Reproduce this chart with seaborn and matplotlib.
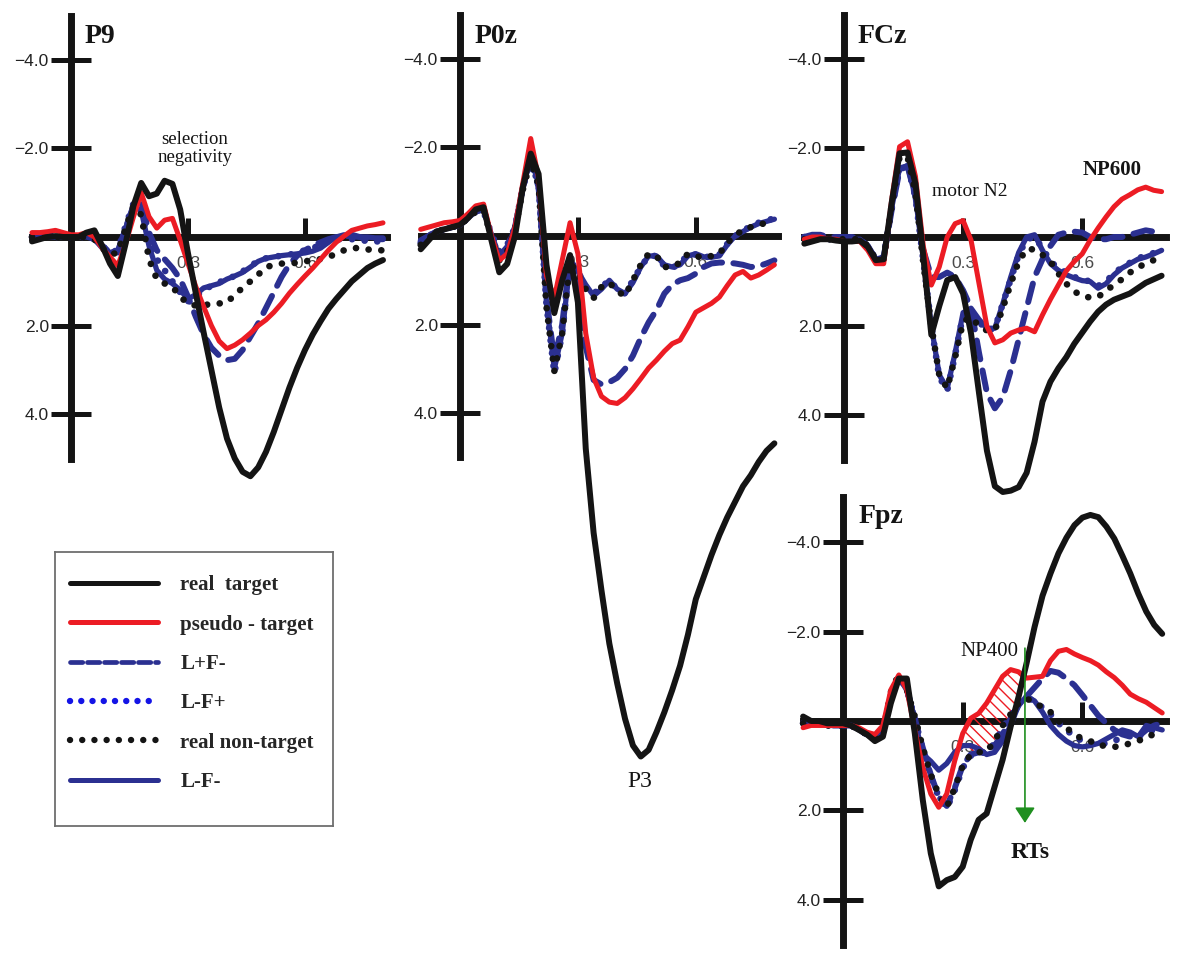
import matplotlib
matplotlib.use("Agg")
import matplotlib.pyplot as plt
from matplotlib.lines import Line2D
import numpy as np
import seaborn as sns

sns.set_theme(style="white")
plt.rcParams["font.family"] = ["Liberation Serif", "DejaVu Serif"]
plt.rcParams["hatch.linewidth"] = 1.0

# sample times (s), shared by every trace
TIME = [-0.10, -0.08, -0.06, -0.04, -0.02, 0.00, 0.02, 0.04, 0.06, 0.08,
        0.10, 0.12, 0.14, 0.16, 0.18, 0.20, 0.22, 0.24, 0.26, 0.28,
        0.30, 0.32, 0.34, 0.36, 0.38, 0.40, 0.42, 0.44, 0.46, 0.48,
        0.50, 0.52, 0.54, 0.56, 0.58, 0.60, 0.62, 0.64, 0.66, 0.68,
        0.70, 0.72, 0.74, 0.76, 0.78, 0.80]

# ---- P9 (uV, negative up) ----
P9_TARGET = [0.10, 0.05, 0.00, -0.02, 0.00, 0.00, 0.00, -0.10, -0.15, 0.20,
             0.60, 0.88, 0.15, -0.70, -1.22, -0.92, -0.98, -1.27, -1.20, -0.62,
             0.37, 1.27, 2.15, 3.00, 3.85, 4.55, 5.00, 5.30, 5.40, 5.20,
             4.85, 4.40, 3.90, 3.40, 2.95, 2.55, 2.20, 1.90, 1.62, 1.40,
             1.20, 1.00, 0.85, 0.70, 0.60, 0.52]
P9_PSEUDO = [-0.10, -0.10, -0.12, -0.15, -0.10, -0.05, -0.05, -0.10, 0.00, 0.25,
             0.45, 0.65, 0.15, -0.45, -1.00, -0.46, -0.20, -0.38, -0.42, 0.07,
             0.60, 1.12, 1.57, 2.00, 2.35, 2.52, 2.44, 2.32, 2.17, 2.00,
             1.87, 1.70, 1.50, 1.27, 1.07, 0.88, 0.70, 0.50, 0.30, 0.12,
             -0.02, -0.15, -0.20, -0.25, -0.28, -0.32]
P9_LPFM = [0.00, -0.05, -0.05, -0.05, 0.00, 0.00, 0.00, 0.00, 0.05, 0.20,
           0.35, 0.35, -0.20, -0.70, -0.80, -0.10, 0.30, 0.50, 0.70, 0.95,
           1.35, 1.80, 2.20, 2.50, 2.68, 2.78, 2.75, 2.55, 2.25, 1.95,
           1.60, 1.25, 0.90, 0.62, 0.42, 0.30, 0.20, 0.12, 0.05, 0.00,
           0.00, -0.05, 0.00, 0.05, 0.05, 0.05]
P9_LMFP = [0.00, 0.00, -0.05, 0.00, 0.00, 0.00, 0.00, 0.00, 0.05, 0.20,
           0.35, 0.30, -0.25, -0.75, -0.55, 0.10, 0.50, 0.75, 1.00, 1.25,
           1.45, 1.35, 1.20, 1.10, 1.02, 0.95, 0.88, 0.78, 0.65, 0.55,
           0.48, 0.45, 0.42, 0.40, 0.35, 0.30, 0.25, 0.18, 0.10, 0.05,
           0.05, 0.05, 0.05, 0.10, 0.10, 0.10]
P9_NONTARGET = [0.00, 0.00, 0.00, 0.00, 0.00, 0.00, 0.00, 0.00, 0.05, 0.25,
                0.40, 0.35, -0.20, -0.70, -0.50, 0.50, 0.95, 1.05, 1.12, 1.35,
                1.50, 1.55, 1.55, 1.50, 1.50, 1.48, 1.30, 1.15, 1.00, 0.85,
                0.68, 0.63, 0.60, 0.60, 0.58, 0.55, 0.52, 0.50, 0.45, 0.38,
                0.30, 0.25, 0.25, 0.28, 0.30, 0.30]
P9_LMFM = [0.00, 0.00, 0.00, 0.00, 0.00, 0.00, 0.00, 0.00, 0.05, 0.25,
           0.35, 0.30, -0.20, -0.70, -0.60, 0.20, 0.75, 0.95, 1.05, 1.20,
           1.40, 1.30, 1.15, 1.10, 1.05, 0.95, 0.88, 0.80, 0.68, 0.55,
           0.48, 0.45, 0.42, 0.40, 0.38, 0.36, 0.32, 0.25, 0.12, 0.00,
           -0.05, 0.00, 0.00, 0.00, 0.02, 0.02]

# ---- POz ----
POZ_TARGET = [0.30, 0.10, -0.10, -0.15, -0.20, -0.25, -0.40, -0.60, -0.65, 0.10,
              0.82, 0.63, 0.00, -1.10, -1.86, -1.40, 0.65, 1.74, 1.00, 0.43,
              1.50, 4.80, 6.70, 8.00, 9.20, 10.10, 10.90, 11.50, 11.75, 11.60,
              11.20, 10.75, 10.25, 9.70, 9.00, 8.20, 7.70, 7.20, 6.75, 6.35,
              6.00, 5.65, 5.40, 5.10, 4.85, 4.68]
POZ_PSEUDO = [-0.15, -0.20, -0.25, -0.30, -0.32, -0.35, -0.50, -0.68, -0.72, 0.00,
              0.55, 0.40, -0.20, -1.20, -2.20, -1.30, 0.90, 1.40, 0.55, -0.30,
              0.40, 2.20, 3.20, 3.62, 3.75, 3.78, 3.65, 3.45, 3.22, 2.98,
              2.80, 2.60, 2.43, 2.35, 2.05, 1.72, 1.62, 1.52, 1.38, 1.12,
              0.88, 0.80, 0.95, 0.88, 0.77, 0.65]
POZ_LPFM = [0.10, 0.00, -0.10, -0.15, -0.20, -0.25, -0.40, -0.55, -0.60, 0.00,
            0.45, 0.25, -0.20, -1.10, -1.70, -1.10, 1.40, 2.80, 2.00, 0.50,
            1.20, 2.50, 3.25, 3.35, 3.30, 3.20, 3.00, 2.70, 2.30, 1.95,
            1.67, 1.30, 1.10, 1.00, 0.95, 0.85, 0.70, 0.62, 0.60, 0.60,
            0.62, 0.65, 0.70, 0.68, 0.62, 0.55]
POZ_LMFP = [0.15, 0.00, -0.10, -0.15, -0.20, -0.25, -0.40, -0.55, -0.55, -0.05,
            0.35, 0.20, -0.20, -1.10, -1.70, -1.15, 1.55, 3.10, 2.20, 0.55,
            0.80, 1.15, 1.30, 1.15, 1.00, 1.20, 1.30, 1.00, 0.70, 0.45,
            0.45, 0.68, 0.72, 0.62, 0.42, 0.42, 0.48, 0.46, 0.42, 0.18,
            0.00, -0.12, -0.22, -0.30, -0.35, -0.40]
POZ_NONTARGET = [0.20, 0.05, -0.10, -0.15, -0.20, -0.25, -0.40, -0.55, -0.60, 0.05,
                 0.55, 0.35, -0.15, -1.05, -1.70, -1.15, 1.60, 3.05, 2.20, 0.60,
                 0.85, 1.20, 1.40, 1.15, 1.05, 1.25, 1.35, 1.00, 0.65, 0.40,
                 0.45, 0.70, 0.70, 0.60, 0.40, 0.45, 0.50, 0.45, 0.40, 0.15,
                 0.00, -0.15, -0.20, -0.25, -0.30, -0.35]
POZ_LMFM = [0.10, 0.00, -0.10, -0.15, -0.20, -0.25, -0.40, -0.55, -0.60, 0.00,
            0.50, 0.30, -0.20, -1.10, -1.75, -1.20, 1.50, 3.00, 2.20, 0.60,
            0.80, 1.10, 1.35, 1.20, 1.00, 1.20, 1.30, 1.05, 0.70, 0.45,
            0.45, 0.65, 0.70, 0.65, 0.45, 0.40, 0.47, 0.48, 0.45, 0.20,
            0.00, -0.10, -0.20, -0.28, -0.33, -0.38]

# ---- FCz ----
FCZ_TARGET = [0.15, 0.10, 0.05, 0.05, 0.08, 0.10, 0.10, 0.08, 0.22, 0.52,
              0.50, -0.76, -1.88, -1.90, -1.20, 0.45, 2.20, 1.55, 0.97, 0.90,
              1.27, 2.17, 3.50, 4.80, 5.60, 5.73, 5.70, 5.62, 5.30, 4.60,
              3.70, 3.25, 2.95, 2.70, 2.40, 2.15, 1.90, 1.68, 1.52, 1.41,
              1.34, 1.27, 1.15, 1.03, 0.95, 0.87]
FCZ_PSEUDO = [0.05, 0.00, 0.00, 0.05, 0.05, 0.10, 0.10, 0.10, 0.30, 0.60,
              0.60, -0.83, -2.03, -2.14, -1.36, 0.22, 1.08, 0.67, 0.00, -0.30,
              -0.37, 0.07, 1.04, 2.01, 2.38, 2.31, 2.16, 2.09, 2.05, 2.13,
              1.75, 1.40, 1.08, 0.76, 0.55, 0.38, 0.07, -0.20, -0.45, -0.68,
              -0.85, -0.95, -1.06, -1.12, -1.05, -1.02]
FCZ_LPFM = [0.00, -0.05, -0.05, 0.00, 0.00, 0.00, 0.00, 0.05, 0.20, 0.50,
            0.45, -0.60, -1.50, -1.60, -0.90, 0.30, 0.90, 0.90, 0.80, 0.90,
            1.20, 1.60, 2.60, 3.50, 3.85, 3.60, 3.00, 2.30, 1.60, 0.90,
            0.50, 0.20, -0.05, -0.10, -0.12, -0.10, 0.00, 0.05, 0.05, 0.00,
            0.00, -0.05, -0.10, -0.15, -0.12, -0.10]
FCZ_LMFP = [0.00, 0.00, 0.00, 0.05, 0.05, 0.05, 0.05, 0.05, 0.20, 0.50,
            0.45, -0.65, -1.55, -1.60, -0.90, 0.55, 2.00, 3.15, 3.45, 2.65,
            1.75, 1.65, 1.90, 2.10, 2.05, 1.50, 0.95, 0.40, 0.05, 0.00,
            0.25, 0.55, 0.70, 0.80, 0.90, 0.95, 1.00, 1.10, 1.00, 0.82,
            0.68, 0.58, 0.48, 0.42, 0.36, 0.30]
FCZ_NONTARGET = [0.05, 0.05, 0.05, 0.05, 0.05, 0.05, 0.05, 0.05, 0.20, 0.50,
                 0.50, -0.70, -1.80, -1.80, -1.00, 0.60, 2.00, 3.10, 3.40, 2.70,
                 1.90, 1.80, 2.00, 2.10, 2.10, 1.60, 1.05, 0.55, 0.27, 0.28,
                 0.40, 0.55, 0.82, 1.05, 1.22, 1.33, 1.36, 1.35, 1.20, 1.08,
                 0.95, 0.80, 0.68, 0.60, 0.52, 0.44]
FCZ_LMFM = [0.00, 0.00, 0.00, 0.05, 0.05, 0.05, 0.05, 0.05, 0.20, 0.50,
            0.45, -0.65, -1.55, -1.60, -0.90, 0.50, 2.00, 3.10, 3.40, 2.60,
            1.70, 1.60, 1.85, 2.05, 2.05, 1.50, 0.90, 0.35, 0.00, -0.05,
            0.30, 0.60, 0.75, 0.85, 0.92, 0.98, 1.00, 1.15, 1.05, 0.85,
            0.70, 0.60, 0.50, 0.45, 0.38, 0.30]

# ---- Fpz ----
FPZ_TARGET = [-0.10, 0.00, 0.00, 0.05, 0.05, 0.05, 0.10, 0.20, 0.30, 0.45,
              0.35, -0.40, -0.95, -0.95, 0.28, 1.77, 2.96, 3.70, 3.56, 3.49,
              3.26, 2.66, 2.21, 2.07, 1.47, 0.87, 0.13, -0.54, -1.29, -2.10,
              -2.80, -3.30, -3.75, -4.10, -4.38, -4.55, -4.61, -4.56, -4.35, -4.08,
              -3.70, -3.30, -2.85, -2.45, -2.15, -1.95]
FPZ_PSEUDO = [0.15, 0.10, 0.10, 0.10, 0.10, 0.10, 0.10, 0.15, 0.25, 0.30,
              0.10, -0.70, -1.03, -0.70, 0.20, 1.04, 1.63, 1.93, 1.63, 0.89,
              0.28, -0.06, -0.17, -0.40, -0.70, -1.00, -1.15, -1.10, -0.96, -0.98,
              -1.00, -1.35, -1.56, -1.60, -1.50, -1.42, -1.35, -1.25, -1.10, -0.97,
              -0.80, -0.60, -0.50, -0.42, -0.30, -0.18]
FPZ_LPFM = [0.05, 0.05, 0.05, 0.10, 0.10, 0.10, 0.10, 0.20, 0.30, 0.40,
            0.25, -0.60, -1.00, -0.70, -0.05, 0.60, 1.20, 1.70, 1.90, 1.50,
            1.00, 0.75, 0.70, 0.70, 0.55, 0.30, -0.05, -0.35, -0.55, -0.75,
            -0.95, -1.12, -1.08, -0.95, -0.80, -0.58, -0.35, -0.12, 0.05, 0.20,
            0.30, 0.35, 0.35, 0.20, 0.10, 0.05]
FPZ_LMFP = [0.05, 0.05, 0.05, 0.10, 0.10, 0.10, 0.10, 0.20, 0.30, 0.40,
            0.25, -0.60, -1.00, -0.70, -0.05, 0.65, 1.25, 1.70, 1.95, 1.55,
            1.05, 0.78, 0.72, 0.70, 0.50, 0.15, -0.10, -0.38, -0.52, -0.45,
            -0.30, -0.15, 0.05, 0.20, 0.35, 0.45, 0.50, 0.52, 0.50, 0.45,
            0.35, 0.30, 0.35, 0.25, 0.20, 0.20]
FPZ_NONTARGET = [0.05, 0.05, 0.05, 0.10, 0.10, 0.10, 0.10, 0.20, 0.30, 0.40,
                 0.25, -0.65, -1.05, -0.70, -0.10, 0.60, 1.20, 1.65, 1.93, 1.50,
                 1.00, 0.75, 0.70, 0.68, 0.45, 0.10, -0.15, -0.40, -0.50, -0.42,
                 -0.30, -0.20, 0.00, 0.15, 0.30, 0.40, 0.45, 0.55, 0.55, 0.58,
                 0.55, 0.50, 0.45, 0.35, 0.30, 0.25]
FPZ_LMFM = [0.05, 0.05, 0.05, 0.10, 0.10, 0.10, 0.10, 0.20, 0.30, 0.35,
            0.20, -0.60, -1.00, -0.80, 0.00, 0.74, 0.90, 1.10, 0.95, 0.70,
            0.55, 0.55, 0.62, 0.75, 0.70, 0.45, 0.10, -0.35, -0.55, -0.45,
            -0.20, 0.10, 0.30, 0.45, 0.55, 0.58, 0.55, 0.50, 0.40, 0.30,
            0.20, 0.25, 0.35, 0.10, 0.15, 0.20]

NP400_WINDOW = (0.32, 0.44)   # hatched pseudo-target effect at Fpz
RT_TIME = 0.456               # mean response time marker
RT_SPAN = (-1.63, 2.28)

XTICKS, XTICK_LABELS = [0.3, 0.6], ["0.3", "0.6"]
YTICKS, YTICK_LABELS = [-4, -2, 2, 4], ["\u22124.0", "\u22122.0", "2.0", "4.0"]

BLACK = "#141414"
RED = "#EC1C24"
NAVY = "#2B3091"
BRIGHT_BLUE = "#1414E6"

# draw order (bottom -> top)
CONDITIONS = ["L-F-", "L+F-", "L-F+", "real non-target", "pseudo - target", "real  target"]
STYLE = {
    "real  target":    dict(color=BLACK, lw=4.3, ls="-"),
    "pseudo - target": dict(color=RED, lw=3.6, ls="-"),
    "L+F-":            dict(color=NAVY, lw=4.3, ls=(0, (3.2, 1.9))),
    "L-F+":            dict(color=NAVY, lw=4.8, ls=(0, (0.01, 1.9))),
    "real non-target": dict(color=BLACK, lw=4.8, ls=(0, (0.01, 1.9))),
    "L-F-":            dict(color=NAVY, lw=3.8, ls="-"),
}
LEGEND_ORDER = ["real  target", "pseudo - target", "L+F-", "L-F+", "real non-target", "L-F-"]

W_PX, H_PX = 1200, 956
fig = plt.figure(figsize=(12, 9.56), dpi=100)


def panel_axes(t0_px, px_s, zero_px, px_uv, v_top, v_bottom, t_left=-0.13, t_right=0.83):
    left, right = t0_px + t_left * px_s, t0_px + t_right * px_s
    top, bottom = zero_px + v_top * px_uv, zero_px + v_bottom * px_uv
    ax = fig.add_axes([left / W_PX, 1 - bottom / H_PX,
                       (right - left) / W_PX, (bottom - top) / H_PX])
    ax.set_xlim(t_left, t_right)
    ax.set_ylim(v_bottom, v_top)   # negative up
    ax.patch.set_visible(False)
    return ax


def draw_panel(ax, traces, name, name_pos):
    for cond in CONDITIONS:
        st = STYLE[cond]
        sns.lineplot(x=TIME, y=traces[cond], ax=ax, color=st["color"], linewidth=st["lw"],
                     linestyle=st["ls"], dash_capstyle="round", solid_capstyle="round",
                     solid_joinstyle="round", zorder=2)
    for side in ("top", "right"):
        ax.spines[side].set_visible(False)
    for side in ("left", "bottom"):
        sp = ax.spines[side]
        sp.set_position(("data", 0))
        sp.set_linewidth(5)
        sp.set_color(BLACK)
        sp.set_zorder(1.8)
    ax.spines["left"].set_bounds(-5, 5)
    ax.spines["bottom"].set_bounds(-0.1, 0.81)
    ax.set_xticks(XTICKS, XTICK_LABELS)
    ax.set_yticks(YTICKS, YTICK_LABELS)
    ax.tick_params(axis="x", bottom=True, direction="in", length=14, width=3.6, color=BLACK,
                   pad=14, labelsize=12.5, labelcolor="#4a4a4a", labelfontfamily="Liberation Sans")
    ax.tick_params(axis="y", left=True, direction="inout", length=29, width=3.6, color=BLACK,
                   pad=1.5, labelsize=12.5, labelcolor="#222222", labelfontfamily="Liberation Sans")
    ax.set_axisbelow(True)
    ax.set_xlabel("")
    ax.set_ylabel("")
    ax.grid(False)
    ax.text(name_pos[0], name_pos[1], name, fontsize=20, fontweight="bold",
            ha="left", va="baseline", color=BLACK)


def traces_of(target, pseudo, lpfm, lmfp, nontarget, lmfm):
    return {"real  target": target, "pseudo - target": pseudo, "L+F-": lpfm,
            "L-F+": lmfp, "real non-target": nontarget, "L-F-": lmfm}


# P9
ax_p9 = panel_axes(71, 390, 237, 44.3, -5.3, 5.7)
draw_panel(ax_p9, traces_of(P9_TARGET, P9_PSEUDO, P9_LPFM, P9_LMFP, P9_NONTARGET, P9_LMFM),
           "P9", (0.036, -4.38))
ax_p9.text(0.318, -2.0, "selection\nnegativity", fontsize=13.5, ha="center", va="center",
           linespacing=1.05, color=BLACK)

# POz
ax_poz = panel_axes(460, 393, 236, 44.3, -5.3, 12.7)
draw_panel(ax_poz, traces_of(POZ_TARGET, POZ_PSEUDO, POZ_LPFM, POZ_LMFP, POZ_NONTARGET, POZ_LMFM),
           "P0z", (0.038, -4.35))
ax_poz.text(0.458, 12.32, "P3", fontsize=17, ha="center", va="center", color=BLACK)

# FCz
ax_fcz = panel_axes(844, 397, 237, 44.5, -5.3, 5.9)
draw_panel(ax_fcz, traces_of(FCZ_TARGET, FCZ_PSEUDO, FCZ_LPFM, FCZ_LMFP, FCZ_NONTARGET, FCZ_LMFM),
           "FCz", (0.033, -4.37))
ax_fcz.text(0.317, -1.02, "motor N2", fontsize=14, ha="center", va="center", color=BLACK)
ax_fcz.text(0.675, -1.5, "NP600", fontsize=15, fontweight="bold", ha="center", va="center",
            color=BLACK)

# Fpz
ax_fpz = panel_axes(843, 399, 721, 44.7, -5.2, 5.2)
draw_panel(ax_fpz, traces_of(FPZ_TARGET, FPZ_PSEUDO, FPZ_LPFM, FPZ_LMFP, FPZ_NONTARGET, FPZ_LMFM),
           "Fpz", (0.04, -4.42))
t = np.array(TIME)
in_window = (t >= NP400_WINDOW[0] - 1e-9) & (t <= NP400_WINDOW[1] + 1e-9)
ax_fpz.fill_between(t, FPZ_PSEUDO, FPZ_NONTARGET, where=in_window, interpolate=True,
                    facecolor="none", edgecolor=RED, hatch="\\\\\\", linewidth=0, zorder=1.9)
ax_fpz.annotate("", xy=(RT_TIME, RT_SPAN[1]), xytext=(RT_TIME, RT_SPAN[0]),
                arrowprops=dict(arrowstyle="-|>,head_length=0.43,head_width=0.28",
                                color="#1F8F1F", lw=1.2, mutation_scale=22,
                                shrinkA=0, shrinkB=0), zorder=3)
ax_fpz.text(0.368, -1.55, "NP400", fontsize=15, ha="center", va="center", color=BLACK,
            zorder=4)
ax_fpz.text(0.469, 2.95, "RTs", fontsize=17, fontweight="bold", ha="center", va="center",
            color=BLACK)

# legend box
leg_ax = fig.add_axes([55 / W_PX, 1 - 826 / H_PX, 278 / W_PX, 274 / H_PX])
leg_ax.set_xticks([])
leg_ax.set_yticks([])
for sp in leg_ax.spines.values():
    sp.set_visible(True)
    sp.set_color("#6e6e6e")
    sp.set_linewidth(1.3)
leg_style = {
    "real  target":    dict(color=BLACK, lw=3.6, ls="-"),
    "pseudo - target": dict(color=RED, lw=3.6, ls="-"),
    "L+F-":            dict(color=NAVY, lw=3.4, ls=(0, (2.6, 1.0))),
    "L-F+":            dict(color=BRIGHT_BLUE, lw=4.6, ls=(0, (0.01, 1.75))),
    "real non-target": dict(color=BLACK, lw=4.6, ls=(0, (0.01, 1.9))),
    "L-F-":            dict(color=NAVY, lw=3.6, ls="-"),
}
handles = [Line2D([], [], color=leg_style[c]["color"], lw=leg_style[c]["lw"],
                  ls=leg_style[c]["ls"], dash_capstyle="round") for c in LEGEND_ORDER]
leg_ax.legend(handles, LEGEND_ORDER, loc="upper left", bbox_to_anchor=(0.054, 0.915),
              frameon=False, borderpad=0, borderaxespad=0, handlelength=4.2,
              handletextpad=1.1, labelspacing=0.93,
              prop={"family": "Liberation Serif", "weight": "bold", "size": 15})

fig.savefig("out.png", dpi=100, facecolor="white")
